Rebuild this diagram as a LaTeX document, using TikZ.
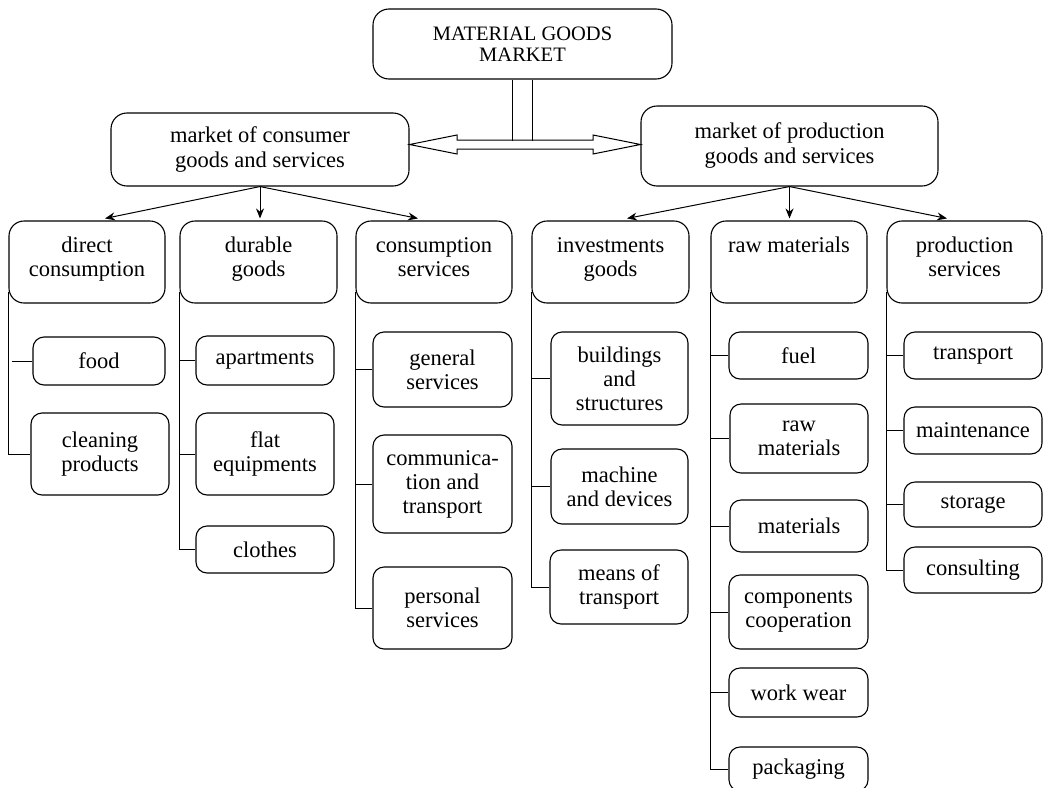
\documentclass[tikz,border=0pt]{standalone}
\usepackage{fontspec}
\setmainfont{Liberation Serif}
\usetikzlibrary{calc,arrows.meta}
\newcommand\toptxt[1]{\parbox[c][52pt][t]{150pt}{\centering\strut #1}}
\begin{document}
\begin{tikzpicture}[x=1pt,y=-1pt,
  bx/.style={draw, line width=1.1pt, align=center, inner sep=0pt, font=\fontsize{22.5}{24}\selectfont},
  big/.style={bx, rounded corners=16pt, font=\fontsize{22.5}{25}\selectfont},
  mid/.style={bx, rounded corners=15pt, minimum height=82pt},
  sm/.style={bx, rounded corners=11pt},
  ln/.style={line width=1pt},
  arr/.style={line width=1pt, -{Stealth[length=10pt,width=8pt]}}]
\clip (0,0) rectangle (1043,787);
% level 0 and 1
\node[big, font=\fontsize{20.5}{21.5}\selectfont, minimum width=299pt, minimum height=70pt] (top) at (522.5,44) {MATERIAL GOODS\\MARKET};
\node[big, minimum width=298pt, minimum height=73pt] (cons) at (260,149.5) {market of consumer\\goods and services};
\node[big, minimum width=297pt, minimum height=80pt] (prod) at (789.5,146) {market of production\\goods and services};
% level 2
\node[mid, minimum width=156pt] (dc) at (87,262) {\toptxt{direct\\consumption}};
\node[mid, minimum width=157pt] (du) at (258.5,262) {\toptxt{durable\\goods}};
\node[mid, minimum width=156pt] (cs) at (434,262) {\toptxt{consumption\\services}};
\node[mid, minimum width=157pt] (ig) at (610.5,262) {\toptxt{investments\\goods}};
\node[mid, minimum width=156pt] (rm) at (789,262) {\toptxt{raw materials}};
\node[mid, minimum width=155pt] (ps) at (964.5,262) {\toptxt{production\\services}};
% level 3
\node[sm, minimum width=132pt, minimum height=48pt] (food) at (99,361) {food};
\node[sm, minimum width=138pt, minimum height=82pt] (clean) at (100,454) {cleaning\\products};
\node[sm, minimum width=138pt, minimum height=49pt] (apart) at (265,360.5) {apartments};
\node[sm, minimum width=138pt, minimum height=82pt] (flat) at (265,454) {flat\\equipments};
\node[sm, minimum width=138pt, minimum height=47pt] (clothes) at (265,549.5) {clothes};
\node[sm, minimum width=139pt, minimum height=75pt] (gen) at (442.5,369.5) {general\\services};
\node[sm, minimum width=139pt, minimum height=98pt] (comm) at (442.5,484) {communica-\\tion and\\transport};
\node[sm, minimum width=139pt, minimum height=82pt] (pers) at (442.5,608) {personal\\services};
\node[sm, minimum width=137pt, minimum height=93pt] (build) at (619.5,378.5) {buildings\\and\\structures};
\node[sm, minimum width=137pt, minimum height=75pt] (mach) at (619.5,486.5) {machine\\and devices};
\node[sm, minimum width=138pt, minimum height=74pt] (means) at (619,587) {means of\\transport};
\node[sm, minimum width=139pt, minimum height=47pt] (fuel) at (798.5,355.5) {fuel};
\node[sm, minimum width=138pt, minimum height=69pt] (raw) at (799,438.5) {raw\\materials};
\node[sm, minimum width=138pt, minimum height=52pt] (mats) at (799,526) {materials};
\node[sm, minimum width=139pt, minimum height=74pt] (comp) at (798.5,612) {components\\cooperation};
\node[sm, minimum width=139pt, minimum height=49pt] (work) at (798.5,692.5) {work wear};
\node[sm, minimum width=139pt, minimum height=44pt] (pack) at (798.5,769) {packaging};
\node[sm, minimum width=138pt, minimum height=47pt] (trans) at (973,355.5) {transport};
\node[sm, minimum width=138pt, minimum height=47pt] (maint) at (973,430.5) {maintenance};
\node[sm, minimum width=138pt, minimum height=45pt] (stor) at (973,504.5) {storage};
\node[sm, minimum width=138pt, minimum height=46pt] (consu) at (973,570) {consulting};
% double arrow and stem
\draw[ln] ($(top.south)+(-10,0)$) -- ++(0,61);
\draw[ln] ($(top.south)+(10,0)$) -- ++(0,61);
\draw[ln, line join=miter] (cons.east |- 0,144.5) -- (457,135) -- (457,140) -- (593,140) -- (593,135)
  -- (prod.west |- 0,144.5) -- (593,154) -- (593,149) -- (457,149) -- (457,154) -- cycle;
% arrows to level 2
\draw[arr] (cons.south) -- ($(dc.north)+(18,-2)$);
\draw[arr] (cons.south) -- ($(cons.south |- du.north)+(0,-2)$);
\draw[arr] (cons.south) -- ($(cs.north)+(-16,-2)$);
\draw[arr] (prod.south) -- ($(ig.north)+(16.5,-2)$);
\draw[arr] (prod.south) -- ($(prod.south |- rm.north)+(0,-2)$);
\draw[arr] (prod.south) -- ($(ps.north)+(-17.5,-2)$);
% trunks
\draw[ln] ($(dc.south west)+(0,-12)$) |- (clean.west);
\draw[ln] ($(food.west)+(-20,0)$) -- (food.west);
\draw[ln] ($(du.south west)+(0,-12)$) |- (clothes.west);
\draw[ln] (du.south west |- apart.west) -- (apart.west);
\draw[ln] (du.south west |- flat.west) -- (flat.west);
\draw[ln] ($(cs.south west)+(0,-12)$) |- (pers.west);
\draw[ln] (cs.south west |- gen.west) -- (gen.west);
\draw[ln] (cs.south west |- comm.west) -- (comm.west);
\draw[ln] ($(ig.south west)+(0,-12)$) |- (means.west);
\draw[ln] (ig.south west |- build.west) -- (build.west);
\draw[ln] (ig.south west |- mach.west) -- (mach.west);
\draw[ln] ($(rm.south west)+(0,-12)$) |- (pack.west);
\draw[ln] (rm.south west |- fuel.west) -- (fuel.west);
\draw[ln] (rm.south west |- raw.west) -- (raw.west);
\draw[ln] (rm.south west |- mats.west) -- (mats.west);
\draw[ln] (rm.south west |- comp.west) -- (comp.west);
\draw[ln] (rm.south west |- work.west) -- (work.west);
\draw[ln] ($(ps.south west)+(0,-12)$) |- (consu.west);
\draw[ln] (ps.south west |- trans.west) -- (trans.west);
\draw[ln] (ps.south west |- maint.west) -- (maint.west);
\draw[ln] (ps.south west |- stor.west) -- (stor.west);
\end{tikzpicture}
\end{document}
